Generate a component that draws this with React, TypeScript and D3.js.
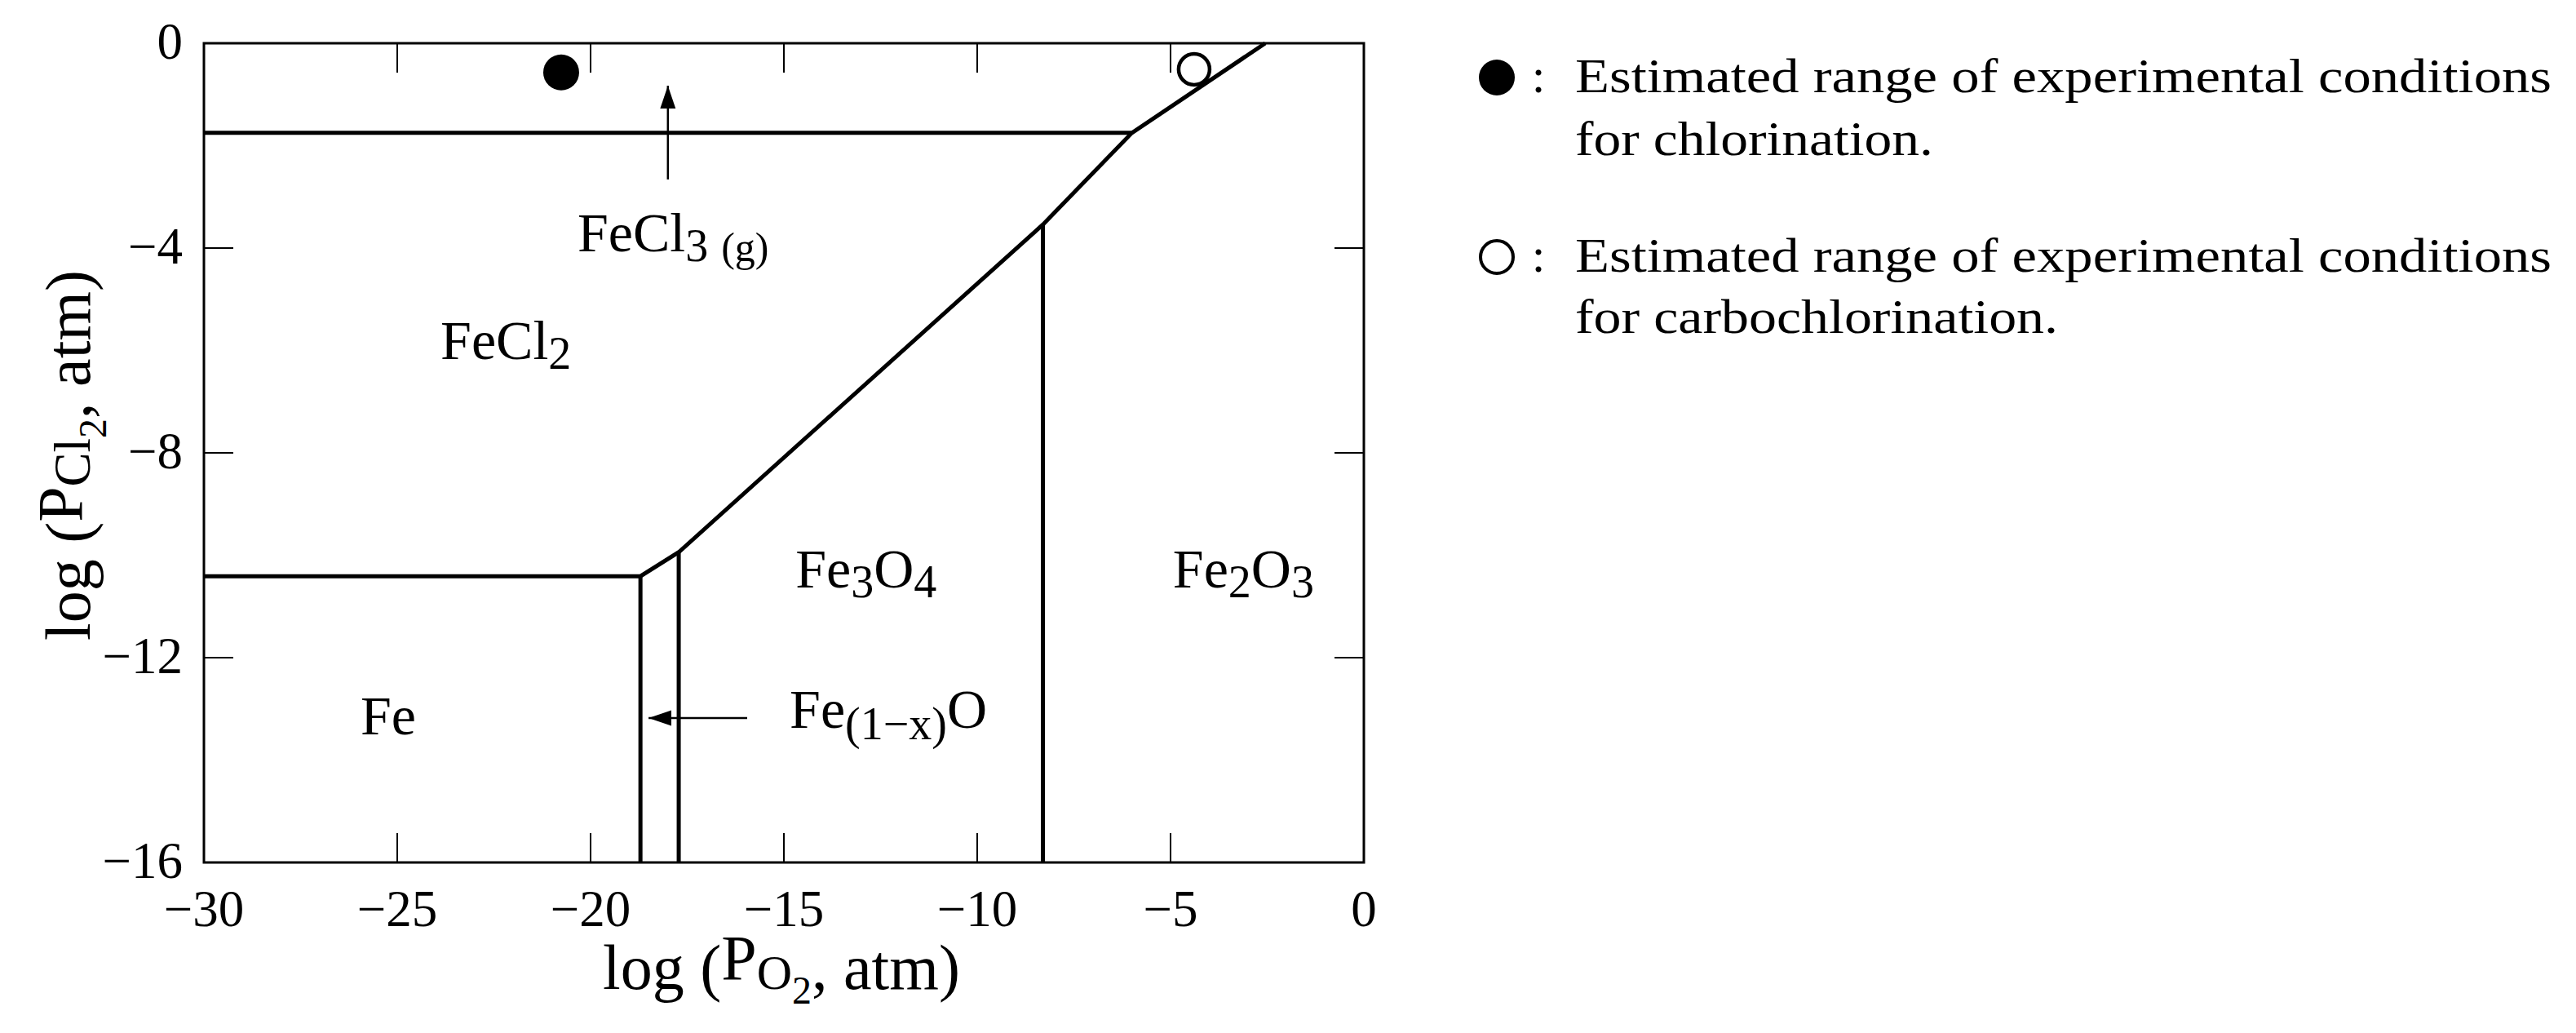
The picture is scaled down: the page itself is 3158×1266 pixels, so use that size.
import React from "react";
import * as d3 from "d3";

// ---- data (log units) ----
const xTicks = [-30, -25, -20, -15, -10, -5, 0];
const yTicks = [0, -4, -8, -12, -16];
const xDomain = [-30, 0];
const yDomain = [-16, 0];

// main boundary: Fe / FeCl2 / oxides / FeCl3(g)
const mainBoundary: [number, number][] = [
  [-30, -10.41],
  [-18.71, -10.41],
  [-17.72, -9.94],
  [-8.3, -3.54],
  [-6.0, -1.75],
  [-2.55, 0],
];
// FeCl2 / FeCl3(g) boundary
const fecl3Boundary: [number, number][] = [
  [-30, -1.75],
  [-6.0, -1.75],
];
// vertical oxide boundaries [x, yTop]
const verticalBoundaries: [number, number][] = [
  [-18.71, -10.41],
  [-17.72, -9.94],
  [-8.3, -3.54],
];
// experimental points
const chlorinationPoint: [number, number] = [-20.76, -0.57];
const carbochlorinationPoint: [number, number] = [-4.39, -0.51];
// arrows [from, to]
const fecl3Arrow: [number, number][] = [
  [-18.0, -2.66],
  [-18.0, -0.83],
];
const feoArrow: [number, number][] = [
  [-15.95, -13.18],
  [-18.5, -13.18],
];
// label anchors (data coords, left/baseline)
const labelFe: [number, number] = [-25.95, -13.5];
const labelFeCl2: [number, number] = [-23.88, -6.17];
const labelFeCl3: [number, number] = [-20.34, -4.06];
const labelFe3O4: [number, number] = [-14.7, -10.63];
const labelFeO: [number, number] = [-14.85, -13.37];
const labelFe2O3: [number, number] = [-4.94, -10.63];

const legendLines1 = ["Estimated range of experimental conditions", "for chlorination."];
const legendLines2 = ["Estimated range of experimental conditions", "for carbochlorination."];

const fmt = (v: number) => (v < 0 ? "\u2212" + Math.abs(v) : String(v));

export default function App() {
  const L = 250,
    R = 1672,
    T = 53,
    B = 1057;
  const x = d3.scaleLinear().domain(xDomain).range([L, R]);
  const y = d3.scaleLinear().domain(yDomain).range([B, T]);
  const line = d3
    .line<[number, number]>()
    .x((d) => x(d[0]))
    .y((d) => y(d[1]));
  const font = "'Liberation Serif', 'Times New Roman', serif";
  const tickLen = 36;
  const big = 68;
  const sub = 56;

  const Lbl = ({ at, parts }: { at: [number, number]; parts: { t: string; s?: number; dx?: number }[] }) => {
    const bx = x(at[0]);
    const by = y(at[1]);
    return (
      <text x={bx} y={by} fontSize={big} fontFamily={font} fill="#000">
        {parts.map((p, i) => (
          <tspan key={i} y={by + (p.s ?? 0)} fontSize={p.s ? sub : big} dx={p.dx ?? 0}>
            {p.t}
          </tspan>
        ))}
      </text>
    );
  };

  return (
    <svg
      width={3158}
      height={1266}
      style={{ position: "absolute", left: 0, top: 0, background: "#fff" }}
      fontFamily={font}
    >
      <defs>
        <marker
          id="ah"
          markerUnits="userSpaceOnUse"
          markerWidth={30}
          markerHeight={20}
          refX={28}
          refY={10}
          orient="auto"
        >
          <path d="M0,0.5 L28,10 L0,19.5 Z" fill="#000" />
        </marker>
      </defs>
      <rect x={0} y={0} width={3158} height={1266} fill="#fff" />

      {/* frame */}
      <rect x={L} y={T} width={R - L} height={B - T} fill="none" stroke="#000" strokeWidth={3} />

      {/* ticks */}
      {xTicks.map((t) => (
        <g key={"xt" + t}>
          <line x1={x(t)} x2={x(t)} y1={B} y2={B - tickLen} stroke="#000" strokeWidth={2} />
          <line x1={x(t)} x2={x(t)} y1={T} y2={T + tickLen} stroke="#000" strokeWidth={2} />
          <text x={x(t)} y={1135} textAnchor="middle" fontSize={63}>
            {fmt(t)}
          </text>
        </g>
      ))}
      {yTicks.map((t) => (
        <g key={"yt" + t}>
          <line x1={L} x2={L + tickLen} y1={y(t)} y2={y(t)} stroke="#000" strokeWidth={2} />
          <line x1={R} x2={R - tickLen} y1={y(t)} y2={y(t)} stroke="#000" strokeWidth={2} />
          <text x={224} y={y(t) + 19} textAnchor="end" fontSize={63}>
            {fmt(t)}
          </text>
        </g>
      ))}

      {/* phase boundaries */}
      <path d={line(mainBoundary) ?? ""} fill="none" stroke="#000" strokeWidth={5} strokeLinejoin="miter" />
      <path d={line(fecl3Boundary) ?? ""} fill="none" stroke="#000" strokeWidth={5} />
      {verticalBoundaries.map((v, i) => (
        <line key={"vb" + i} x1={x(v[0])} x2={x(v[0])} y1={y(v[1])} y2={y(-16)} stroke="#000" strokeWidth={5} />
      ))}

      {/* arrows */}
      <path d={line(fecl3Arrow) ?? ""} stroke="#000" strokeWidth={2.5} fill="none" markerEnd="url(#ah)" />
      <path d={line(feoArrow) ?? ""} stroke="#000" strokeWidth={2.5} fill="none" markerEnd="url(#ah)" />

      {/* points */}
      <circle cx={x(chlorinationPoint[0])} cy={y(chlorinationPoint[1])} r={22} fill="#000" />
      <circle
        cx={x(carbochlorinationPoint[0])}
        cy={y(carbochlorinationPoint[1])}
        r={19}
        fill="#fff"
        stroke="#000"
        strokeWidth={4.5}
      />

      {/* region labels */}
      <Lbl at={labelFe} parts={[{ t: "Fe" }]} />
      <Lbl at={labelFeCl2} parts={[{ t: "FeCl" }, { t: "2", s: 12 }]} />
      <text x={x(labelFeCl3[0])} y={y(labelFeCl3[1])} fontSize={big}>
        FeCl
        <tspan y={y(labelFeCl3[1]) + 12} fontSize={sub}>
          3
        </tspan>
        <tspan y={y(labelFeCl3[1]) + 12} fontSize={50} dx={16}>
          (g)
        </tspan>
      </text>
      <Lbl at={labelFe3O4} parts={[{ t: "Fe" }, { t: "3", s: 12 }, { t: "O" }, { t: "4", s: 12 }]} />
      <Lbl at={labelFeO} parts={[{ t: "Fe" }, { t: "(1\u2212x)", s: 14 }, { t: "O" }]} />
      <Lbl at={labelFe2O3} parts={[{ t: "Fe" }, { t: "2", s: 12 }, { t: "O" }, { t: "3", s: 12 }]} />

      {/* axis titles */}
      <text x={958} y={1212} textAnchor="middle" fontSize={78}>
        <tspan>{"log ("}</tspan>
        <tspan dy={-12}>P</tspan>
        <tspan dy={12} fontSize={60}>
          O
        </tspan>
        <tspan dy={18} fontSize={48}>
          2
        </tspan>
        <tspan dy={-18}>{", atm)"}</tspan>
      </text>
      <g transform="translate(110,558) rotate(-90)">
        <text x={0} y={0} textAnchor="middle" fontSize={78}>
          <tspan>{"log ("}</tspan>
          <tspan dy={-10}>P</tspan>
          <tspan dy={10} fontSize={63}>
            Cl
          </tspan>
          <tspan dy={20} fontSize={48}>
            2
          </tspan>
          <tspan dy={-20}>{", atm)"}</tspan>
        </text>
      </g>

      {/* legend */}
      <circle cx={1835} cy={95} r={22} fill="#000" />
      <text x={1886} y={113} textAnchor="middle" fontSize={60}>
        :
      </text>
      <text x={1931} y={113} fontSize={60} textLength={1197} lengthAdjust="spacingAndGlyphs">
        {legendLines1[0]}
      </text>
      <text x={1931} y={190} fontSize={60} textLength={439} lengthAdjust="spacingAndGlyphs">
        {legendLines1[1]}
      </text>
      <circle cx={1835} cy={315} r={20} fill="#fff" stroke="#000" strokeWidth={4} />
      <text x={1886} y={333} textAnchor="middle" fontSize={60}>
        :
      </text>
      <text x={1931} y={333} fontSize={60} textLength={1197} lengthAdjust="spacingAndGlyphs">
        {legendLines2[0]}
      </text>
      <text x={1931} y={408} fontSize={60} textLength={592} lengthAdjust="spacingAndGlyphs">
        {legendLines2[1]}
      </text>
    </svg>
  );
}
